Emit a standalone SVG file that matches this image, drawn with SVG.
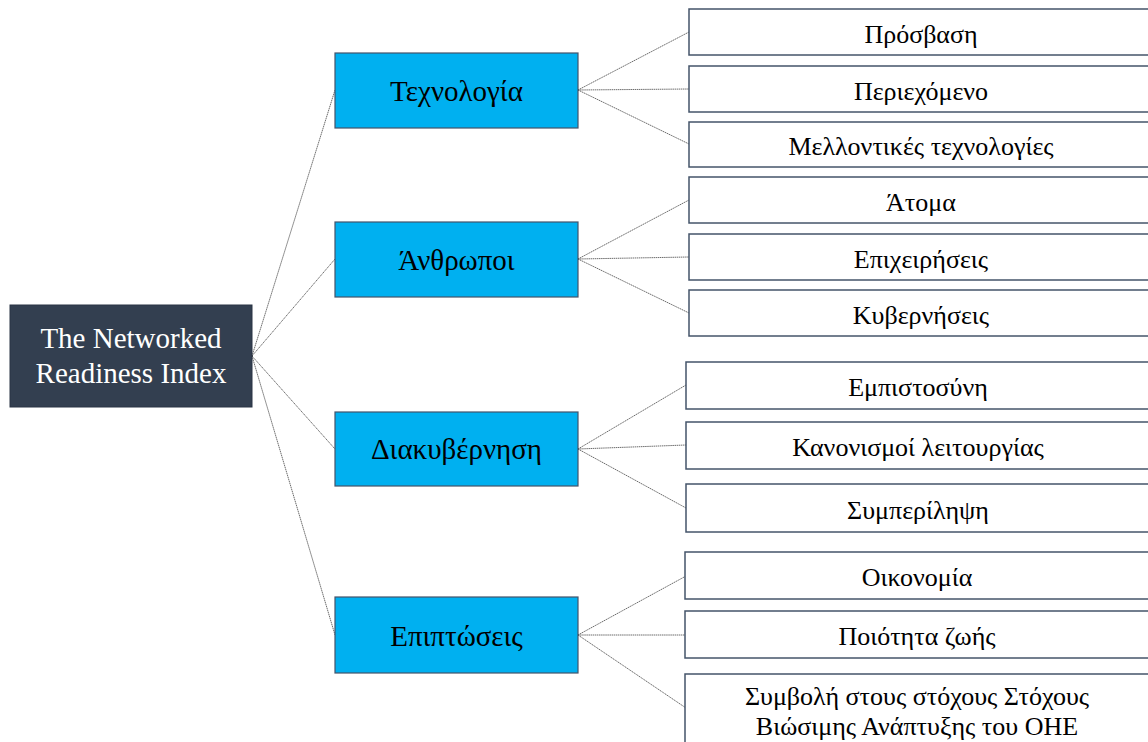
<svg xmlns="http://www.w3.org/2000/svg" width="1148" height="742" viewBox="0 0 1148 742">
<style>
.root{fill:#333F50;stroke:#2A3444;stroke-width:1}
.cat{fill:#00B0F0;stroke:#44546A;stroke-width:1.2}
.leaf{fill:#FFFFFF;stroke:#44546A;stroke-width:1.5}
.t{font-family:"Liberation Serif","Times New Roman",serif;text-anchor:middle;fill:#000}
.rt{font-size:29px;fill:#FFFFFF}
.ct{font-size:29px}
.lt{font-size:26px}
.conn line{stroke:#2E2E2E;stroke-width:0.7;stroke-dasharray:1.5 0.6;fill:none}
</style>
<rect width="1148" height="742" fill="#FFFFFF"/>
<g class="conn" id="connectors">
<line x1="252" y1="356" x2="335" y2="90"/>
<line x1="252" y1="356" x2="335" y2="259"/>
<line x1="252" y1="356" x2="335" y2="449"/>
<line x1="252" y1="356" x2="335" y2="635"/>
<line x1="578" y1="90" x2="689" y2="32"/>
<line x1="578" y1="90" x2="689" y2="89"/>
<line x1="578" y1="90" x2="689" y2="144"/>
<line x1="578" y1="259" x2="689" y2="200"/>
<line x1="578" y1="259" x2="689" y2="257"/>
<line x1="578" y1="259" x2="689" y2="313"/>
<line x1="578" y1="449" x2="686" y2="385"/>
<line x1="578" y1="449" x2="686" y2="445"/>
<line x1="578" y1="449" x2="686" y2="508"/>
<line x1="578" y1="635" x2="686" y2="576"/>
<line x1="578" y1="635" x2="686" y2="635"/>
<line x1="578" y1="635" x2="686" y2="708"/>
</g>
<g id="root">
<rect class="root" x="10" y="305" width="242" height="102"/>
<text class="t rt" x="131" y="348">The Networked</text>
<text class="t rt" x="131" y="383">Readiness Index</text>
</g>
<g id="cat-technology">
<rect class="cat" x="335" y="53" width="243" height="75"/>
<text class="t ct" x="456.5" y="101">Τεχνολογία</text>
</g>
<g id="cat-people">
<rect class="cat" x="335" y="222" width="243" height="75"/>
<text class="t ct" x="456.5" y="270">Άνθρωποι</text>
</g>
<g id="cat-governance">
<rect class="cat" x="335" y="412" width="243" height="74"/>
<text class="t ct" x="456.5" y="459">Διακυβέρνηση</text>
</g>
<g id="cat-impact">
<rect class="cat" x="335" y="597" width="243" height="76"/>
<text class="t ct" x="456.5" y="646">Επιπτώσεις</text>
</g>
<g id="leaf-access">
<rect class="leaf" x="689" y="9" width="460" height="46"/>
<text class="t lt" x="921" y="43">Πρόσβαση</text>
</g>
<g id="leaf-content">
<rect class="leaf" x="689" y="66" width="460" height="46"/>
<text class="t lt" x="921" y="100">Περιεχόμενο</text>
</g>
<g id="leaf-future">
<rect class="leaf" x="689" y="122" width="460" height="45"/>
<text class="t lt" x="921" y="155">Μελλοντικές τεχνολογίες</text>
</g>
<g id="leaf-individuals">
<rect class="leaf" x="689" y="177" width="460" height="46"/>
<text class="t lt" x="921" y="211">Άτομα</text>
</g>
<g id="leaf-businesses">
<rect class="leaf" x="689" y="234" width="460" height="46"/>
<text class="t lt" x="921" y="268">Επιχειρήσεις</text>
</g>
<g id="leaf-governments">
<rect class="leaf" x="689" y="290" width="460" height="46"/>
<text class="t lt" x="921" y="324">Κυβερνήσεις</text>
</g>
<g id="leaf-trust">
<rect class="leaf" x="686" y="362" width="463" height="47"/>
<text class="t lt" x="918" y="396">Εμπιστοσύνη</text>
</g>
<g id="leaf-regulation">
<rect class="leaf" x="686" y="422" width="463" height="47"/>
<text class="t lt" x="918" y="456">Κανονισμοί λειτουργίας</text>
</g>
<g id="leaf-inclusion">
<rect class="leaf" x="686" y="484" width="463" height="48"/>
<text class="t lt" x="918" y="519">Συμπερίληψη</text>
</g>
<g id="leaf-economy">
<rect class="leaf" x="685" y="552" width="464" height="47"/>
<text class="t lt" x="917" y="586">Οικονομία</text>
</g>
<g id="leaf-quality">
<rect class="leaf" x="685" y="611" width="464" height="47"/>
<text class="t lt" x="917" y="645">Ποιότητα ζωής</text>
</g>
<g id="leaf-sdg">
<rect class="leaf" x="685" y="674" width="464" height="72"/>
<text class="t lt" x="917" y="705">Συμβολή στους στόχους Στόχους</text>
<text class="t lt" x="917" y="735">Βιώσιμης Ανάπτυξης του ΟΗΕ</text>
</g>
</svg>
